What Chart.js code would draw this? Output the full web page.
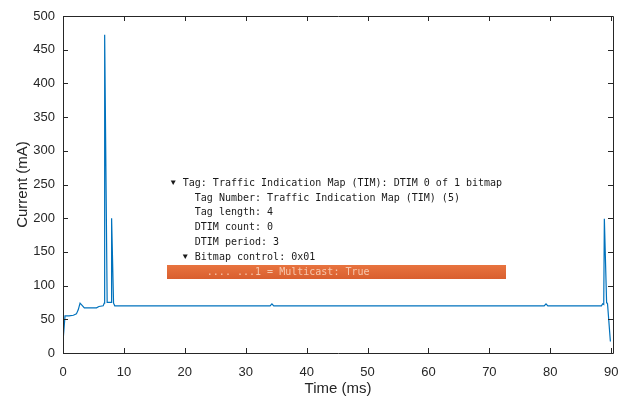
<!DOCTYPE html>
<html>
<head>
<meta charset="utf-8">
<script src="https://cdn.jsdelivr.net/npm/chart.js@4.4.1/dist/chart.umd.min.js"></script>
<style>
  html, body { margin: 0; padding: 0; background: #ffffff; }
  #wrap { width: 624px; height: 398px; }
</style>
</head>
<body>
<div id="wrap"><canvas id="c" width="624" height="398"></canvas></div>
<script>
// ---- data ----
const timeMs = [0, 0.33, 1.0, 1.7, 2.2, 2.5, 2.8, 3.1, 3.5, 5.5, 5.9, 6.6, 6.78, 6.84, 7.25, 7.9, 7.98, 8.3, 8.5,
                20, 34.0, 34.3, 34.6, 79.0, 79.3, 79.6, 88.4, 88.6, 88.78, 88.88, 89.25, 89.4, 89.87];
const currentMa = [17, 55, 55, 56, 58, 64, 74, 71, 67, 67, 69, 70, 74, 472, 75, 75, 200, 74, 70,
                   70, 70, 73, 70, 70, 73, 70, 70, 73, 72, 199, 75, 73, 17];
const xTickValues = [0, 10, 20, 30, 40, 50, 60, 70, 80, 90];
const yTickValues = [0, 50, 100, 150, 200, 250, 300, 350, 400, 450, 500];
const annotationLines = [
  { tri: true,  indent: 0, text: 'Tag: Traffic Indication Map (TIM): DTIM 0 of 1 bitmap' },
  { tri: false, indent: 4, text: 'Tag Number: Traffic Indication Map (TIM) (5)' },
  { tri: false, indent: 4, text: 'Tag length: 4' },
  { tri: false, indent: 4, text: 'DTIM count: 0' },
  { tri: false, indent: 4, text: 'DTIM period: 3' },
  { tri: true,  indent: 2, text: 'Bitmap control: 0x01' },
  { tri: false, indent: 6, text: '.... ...1 = Multicast: True', highlight: true }
];

const axisColor = '#262626';
const tickFont = { family: 'Liberation Sans, Arial, Helvetica, sans-serif', size: 13 };
const titleFont = { family: 'Liberation Sans, Arial, Helvetica, sans-serif', size: 15 };

const points = timeMs.map((t, i) => ({ x: t, y: currentMa[i] }));

const frameAndTicks = {
  id: 'frameAndTicks',
  afterDatasetsDraw(chart) {
    const { ctx, chartArea: a, scales } = chart;
    const L = 5;
    ctx.save();
    ctx.strokeStyle = axisColor;
    ctx.lineWidth = 1;
    ctx.beginPath();
    ctx.rect(Math.round(a.left) + 0.5, Math.round(a.top) + 0.5,
             Math.round(a.right - a.left), Math.round(a.bottom - a.top));
    xTickValues.forEach(v => {
      const px = Math.round(scales.x.getPixelForValue(v)) + 0.5;
      ctx.moveTo(px, a.bottom); ctx.lineTo(px, a.bottom - L);
      ctx.moveTo(px, a.top); ctx.lineTo(px, a.top + L);
    });
    yTickValues.forEach(v => {
      const py = Math.round(scales.y.getPixelForValue(v)) + 0.5;
      ctx.moveTo(a.left, py); ctx.lineTo(a.left + L, py);
      ctx.moveTo(a.right, py); ctx.lineTo(a.right - L, py);
    });
    ctx.stroke();
    ctx.restore();
  }
};

const annotationBox = {
  id: 'annotationBox',
  afterDraw(chart) {
    const ctx = chart.ctx;
    const x0 = 170.7, y0 = 183, lh = 14.8, cw = 6.02;
    const sx = 0.91;
    ctx.save();
    ctx.font = '11px "DejaVu Sans Mono", "Liberation Mono", monospace';
    ctx.textBaseline = 'middle';
    annotationLines.forEach((ln, i) => {
      const y = y0 + i * lh;
      if (ln.highlight) {
        const g = ctx.createLinearGradient(0, 265, 0, 279);
        g.addColorStop(0, '#e8743f');
        g.addColorStop(1, '#d95f2f');
        ctx.fillStyle = g;
        ctx.fillRect(167, 265, 339, 14);
        ctx.fillStyle = '#f6c7ad';
      } else {
        ctx.fillStyle = '#1a1a1a';
      }
      const tx = x0 + ln.indent * cw;
      let textX = tx;
      if (ln.tri) {
        ctx.beginPath();
        ctx.moveTo(tx, y - 2.5);
        ctx.lineTo(tx + 5, y - 2.5);
        ctx.lineTo(tx + 2.5, y + 2);
        ctx.closePath();
        ctx.fill();
        textX = tx + 2 * cw;
      }
      ctx.save();
      ctx.translate(textX, y);
      ctx.scale(sx, 1);
      ctx.fillText(ln.text, 0, 0);
      ctx.restore();
    });
    ctx.restore();
  }
};

new Chart(document.getElementById('c'), {
  type: 'line',
  data: {
    datasets: [{
      data: points,
      borderColor: '#0072BD',
      borderWidth: 1.2,
      pointRadius: 0,
      fill: false,
      tension: 0
    }]
  },
  options: {
    responsive: false,
    animation: false,
    devicePixelRatio: 1,
    layout: { padding: { top: 16, right: 11, left: 0, bottom: 0 } },
    plugins: { legend: { display: false }, tooltip: { enabled: false } },
    scales: {
      x: {
        type: 'linear',
        min: 0,
        max: 90.3,
        afterBuildTicks: s => { s.ticks = xTickValues.map(v => ({ value: v })); },
        afterFit: s => { s.height = 45; s.paddingLeft = 0; s.paddingRight = 0; },
        grid: { display: false, drawTicks: false },
        border: { display: false },
        ticks: { font: tickFont, color: axisColor, padding: 12, maxRotation: 0, autoSkip: false },
        title: { display: true, text: 'Time (ms)', font: titleFont, color: axisColor, padding: { top: -4, bottom: 0 } }
      },
      y: {
        type: 'linear',
        min: 0,
        max: 500,
        afterBuildTicks: s => { s.ticks = yTickValues.map(v => ({ value: v })); },
        afterFit: s => { s.width = 63; s.paddingTop = 0; s.paddingBottom = 0; },
        grid: { display: false, drawTicks: false },
        border: { display: false },
        ticks: { font: tickFont, color: axisColor, padding: 8, autoSkip: false },
        title: { display: true, text: 'Current (mA)', font: titleFont, color: axisColor, padding: { top: 14, bottom: 0 } }
      }
    }
  },
  plugins: [frameAndTicks, annotationBox]
});
</script>
</body>
</html>
